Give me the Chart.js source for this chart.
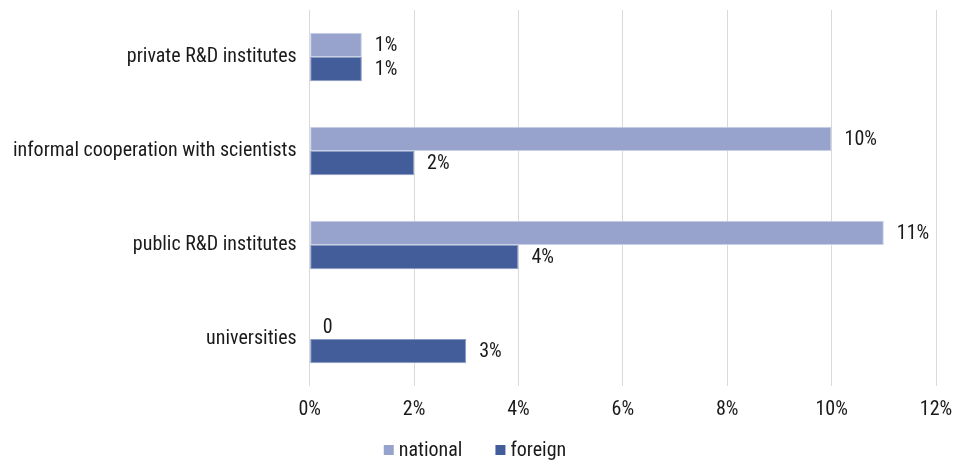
<!DOCTYPE html>
<html><head><meta charset="utf-8">
<script src="https://cdn.jsdelivr.net/npm/chart.js@4.4.0/dist/chart.umd.min.js"></script>
<style>html,body{margin:0;padding:0;background:#fff}#wrap{width:958px;height:462px}</style>
</head><body><div id="wrap"><canvas id="c" width="958" height="462"></canvas></div>
<script>
const categories = ["private R&D institutes","informal cooperation with scientists","public R&D institutes","universities"];
const nationalValues = [1, 10, 11, 0];
const foreignValues = [1, 2, 4, 3];
const nationalLabels = ["1%","10%","11%","0"];
const foreignLabels = ["1%","2%","4%","3%"];
const FONT = "'Roboto Condensed','Liberation Sans Narrow','Arial Narrow',sans-serif";
const FS = 20;
const TEXT = "#1a1a1a";

const labelPlugin = {
  id: 'barLabels',
  afterDatasetsDraw(chart) {
    const ctx = chart.ctx;
    ctx.save();
    ctx.font = FS + "px " + FONT;
    ctx.fillStyle = TEXT;
    ctx.textBaseline = "middle";
    ctx.textAlign = "left";
    const lbls = [nationalLabels, foreignLabels];
    chart.data.datasets.forEach((ds, di) => {
      chart.getDatasetMeta(di).data.forEach((bar, i) => {
        ctx.fillText(lbls[di][i], bar.x + 13, bar.y + 1);
      });
    });
    ctx.restore();
  }
};

const legendPlugin = {
  id: 'customLegend',
  afterDraw(chart) {
    const ctx = chart.ctx;
    ctx.save();
    ctx.font = FS + "px " + FONT;
    ctx.textBaseline = "middle";
    ctx.textAlign = "left";
    const box = 10, gap = 5, spacing = 33;
    const items = chart.data.datasets.map(d => ({label: d.label, color: d.backgroundColor, w: ctx.measureText(d.label).width}));
    let total = 0;
    items.forEach((it, i) => { total += box + gap + it.w + (i < items.length - 1 ? spacing : 0); });
    let x = chart.width / 2 - total / 2 - 4;
    const y = 450;
    items.forEach(it => {
      ctx.fillStyle = it.color;
      ctx.fillRect(x, y - 5, box, box);
      ctx.fillStyle = TEXT;
      ctx.fillText(it.label, x + box + gap, y + 1);
      x += box + gap + it.w + spacing;
    });
    ctx.restore();
  }
};

new Chart(document.getElementById('c'), {
  type: 'bar',
  data: {
    labels: categories,
    datasets: [
      {label: 'national', data: nationalValues, backgroundColor: '#97a3cc', borderColor: '#c9d0e6', borderWidth: 1, borderSkipped: false},
      {label: 'foreign', data: foreignValues, backgroundColor: '#435d9b', borderColor: '#8b9cc4', borderWidth: 1, borderSkipped: false}
    ]
  },
  options: {
    indexAxis: 'y',
    responsive: false,
    animation: false,
    devicePixelRatio: 1,
    layout: {padding: {left: 0, right: 22, top: 10, bottom: 28}},
    datasets: {bar: {categoryPercentage: 0.515, barPercentage: 1}},
    scales: {
      x: {
        min: 0, max: 12,
        ticks: {stepSize: 2, callback: v => v + '%', color: TEXT, font: {family: FONT, size: FS}, padding: 12},
        grid: {color: '#d9d9d9', drawTicks: false},
        border: {display: false},
        afterFit(s) { s.paddingRight = 0; s.paddingLeft = 0; }
      },
      y: {
        ticks: {color: TEXT, font: {family: FONT, size: FS}, padding: 13},
        grid: {display: false, drawTicks: false},
        border: {display: false},
        afterFit(s) { s.paddingTop = 0; s.paddingBottom = 0; }
      }
    },
    plugins: {
      legend: {display: false},
      tooltip: {enabled: false}
    }
  },
  plugins: [labelPlugin, legendPlugin]
});
</script></body></html>
